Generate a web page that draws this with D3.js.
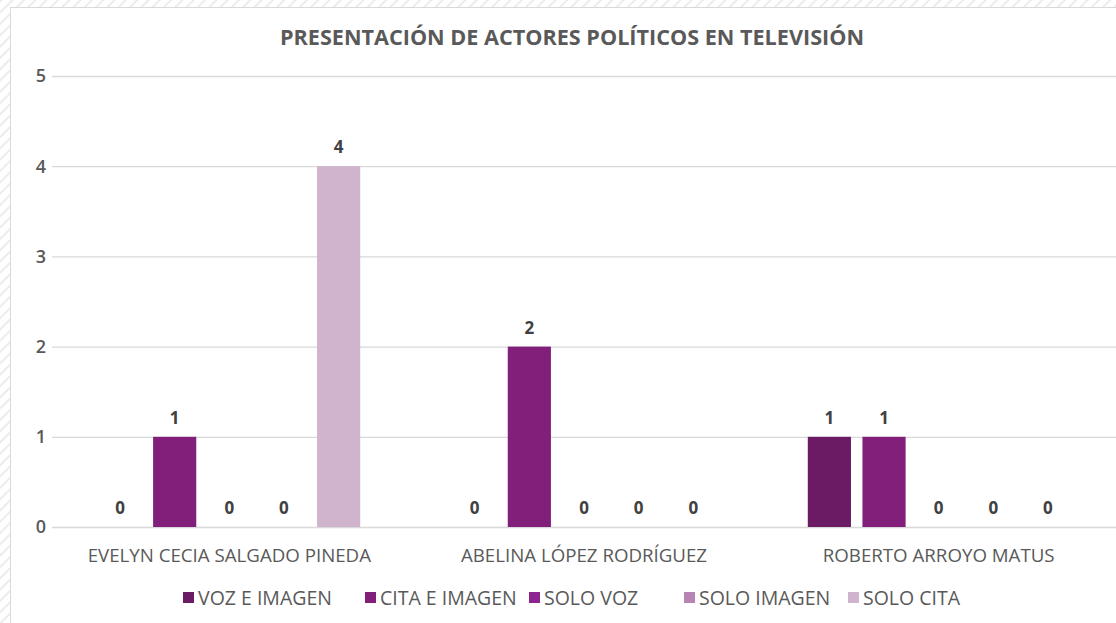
<!DOCTYPE html>
<html>
<head>
<meta charset="utf-8">
<script src="https://cdn.jsdelivr.net/npm/d3@7"></script>
<style>
  body { margin: 0; background: #fff; }
  svg { display: block; font-family: "Open Sans", sans-serif; }
</style>
</head>
<body>
<svg id="chart" width="1116" height="623"></svg>
<script>
var actors = ["EVELYN CECIA SALGADO PINEDA", "ABELINA LÓPEZ RODRÍGUEZ", "ROBERTO ARROYO MATUS"];
var series = ["VOZ E IMAGEN", "CITA E IMAGEN", "SOLO VOZ", "SOLO IMAGEN", "SOLO CITA"];
var colors = ["#6b1b64", "#821f7b", "#8f2490", "#b884b4", "#d0b3cd"];
// one array per series, in actor order
var vozImagen = [0, 0, 1];
var citaImagen = [1, 2, 1];
var soloVoz = [0, 0, 0];
var soloImagen = [0, 0, 0];
var soloCita = [4, 0, 0];
var yTicks = [0, 1, 2, 3, 4, 5];
var title = "PRESENTACIÓN DE ACTORES POLÍTICOS EN TELEVISIÓN";

var values = [vozImagen, citaImagen, soloVoz, soloImagen, soloCita];

var svg = d3.select("#chart");
var textColor = "#595959";

// hatched background outside the chart box
var defs = svg.append("defs");
var pat = defs.append("pattern")
    .attr("id", "hatch")
    .attr("width", 8).attr("height", 8)
    .attr("patternUnits", "userSpaceOnUse")
    .attr("patternTransform", "rotate(45)");
pat.append("rect").attr("width", 8).attr("height", 8).attr("fill", "#fff");
pat.append("rect").attr("width", 2).attr("height", 8).attr("fill", "#ececec");

svg.append("rect").attr("width", 1116).attr("height", 623).attr("fill", "url(#hatch)");
svg.append("rect")
    .attr("x", 10.5).attr("y", 7.5)
    .attr("width", 1120).attr("height", 630)
    .attr("fill", "#fff")
    .attr("stroke", "#d9d9d9");

var plotLeft = 52, plotRight = 1116, plotTop = 76, plotBottom = 527;

var x0 = d3.scaleBand().domain(actors).range([plotLeft, plotRight]);
var x1 = d3.scaleBand().domain(series).range([0, x0.bandwidth()])
    .paddingInner(0.21).paddingOuter(0.85);
var y = d3.scaleLinear().domain([0, 5]).range([plotBottom, plotTop]);

// gridlines
svg.append("g").selectAll("line").data(yTicks).enter().append("line")
    .attr("x1", plotLeft).attr("x2", plotRight)
    .attr("y1", function(d) { return y(d) + 0.5; })
    .attr("y2", function(d) { return y(d) + 0.5; })
    .attr("stroke", "#d9d9d9")
    .attr("stroke-width", 1.3);

// y labels
svg.append("g").selectAll("text").data(yTicks).enter().append("text")
    .attr("x", 46)
    .attr("y", function(d) { return y(d); })
    .attr("dy", "0.36em")
    .attr("text-anchor", "end")
    .attr("fill", textColor)
    .attr("font-size", 18)
    .attr("font-weight", 600)
    .text(function(d) { return d; });

// title
svg.append("text")
    .attr("x", 572).attr("y", 45)
    .attr("text-anchor", "middle")
    .attr("fill", textColor)
    .attr("font-size", 21)
    .attr("font-weight", 700)
    .attr("textLength", 584)
    .attr("lengthAdjust", "spacingAndGlyphs")
    .text(title);

// bars
var cells = [];
actors.forEach(function(a, i) {
    series.forEach(function(s, j) {
        cells.push({ actor: a, serie: s, idx: j, value: values[j][i] });
    });
});

var groups = svg.append("g");
groups.selectAll("rect").data(cells.filter(function(d) { return d.value > 0; }))
    .enter().append("rect")
    .attr("x", function(d) { return x0(d.actor) + x1(d.serie); })
    .attr("y", function(d) { return y(d.value); })
    .attr("width", x1.bandwidth())
    .attr("height", function(d) { return y(0) - y(d.value); })
    .attr("fill", function(d) { return colors[d.idx]; });

groups.selectAll("text").data(cells).enter().append("text")
    .attr("x", function(d) { return x0(d.actor) + x1(d.serie) + x1.bandwidth() / 2; })
    .attr("y", function(d) { return y(d.value) - 13; })
    .attr("text-anchor", "middle")
    .attr("fill", "#404040")
    .attr("font-size", 17)
    .attr("font-weight", 700)
    .text(function(d) { return d.value; });

// category labels
svg.append("g").selectAll("text").data(actors).enter().append("text")
    .attr("x", function(d) { return x0(d) + x0.bandwidth() / 2; })
    .attr("y", 562)
    .attr("text-anchor", "middle")
    .attr("fill", textColor)
    .attr("font-size", 18.7)
    .text(function(d) { return d; });

// legend
var legendX = [183, 365, 529, 684, 848];
var legend = svg.append("g").selectAll("g").data(series).enter().append("g")
    .attr("transform", function(d, i) { return "translate(" + legendX[i] + ",598)"; });
legend.append("rect")
    .attr("x", 0).attr("y", -6)
    .attr("width", 11).attr("height", 11)
    .attr("fill", function(d, i) { return colors[i]; });
legend.append("text")
    .attr("x", 15).attr("y", 0)
    .attr("dy", "0.36em")
    .attr("fill", textColor)
    .attr("font-size", 19.5)
    .text(function(d) { return d; });
</script>
</body>
</html>
